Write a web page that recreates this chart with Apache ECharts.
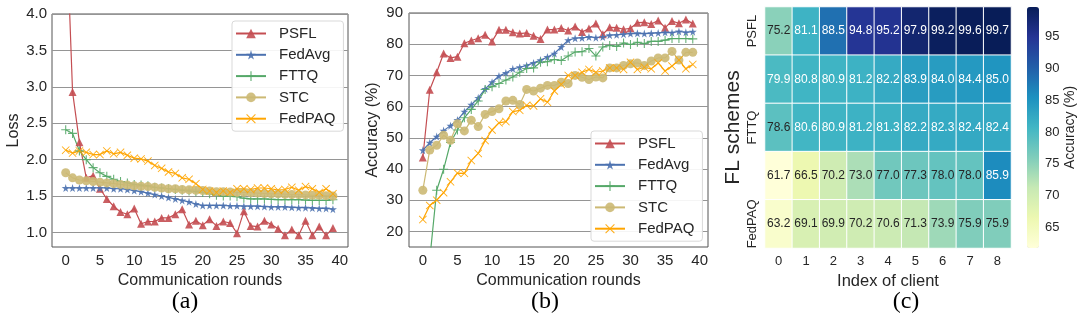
<!DOCTYPE html>
<html><head><meta charset="utf-8">
<script src="https://cdn.jsdelivr.net/npm/echarts@6/dist/echarts.min.js"></script>
<style>html,body{margin:0;padding:0;background:#fff}#c{width:1080px;height:336px}</style>
</head><body><div id="c"></div>
<script>
const rounds = [0,1,2,3,4,5,6,7,8,9,10,11,12,13,14,15,16,17,18,19,20,21,22,23,24,25,26,27,28,29,30,31,32,33,34,35,36,37,38,39];
const schemes = ['PSFL','FedAvg','FTTQ','STC','FedPAQ'];

// Panel (a): loss
const lossPSFL   = [5.5,2.93,2.24,1.75,1.78,1.6,1.46,1.36,1.28,1.25,1.33,1.12,1.15,1.15,1.2,1.2,1.25,1.32,1.11,1.16,1.10,1.18,1.09,1.15,1.13,0.99,1.29,1.09,1.08,1.16,1.11,1.05,0.96,1.04,0.96,1.16,0.96,1.08,0.96,1.06];
const lossFedAvg = [1.61,1.61,1.61,1.61,1.61,1.61,1.61,1.60,1.60,1.59,1.575,1.56,1.54,1.52,1.50,1.48,1.46,1.44,1.42,1.39,1.37,1.37,1.37,1.37,1.365,1.365,1.36,1.36,1.36,1.355,1.35,1.35,1.35,1.345,1.34,1.34,1.335,1.33,1.33,1.32];
const lossFTTQ   = [2.41,2.36,2.12,2.0,1.89,1.82,1.77,1.73,1.70,1.68,1.66,1.65,1.64,1.62,1.61,1.60,1.59,1.58,1.57,1.56,1.55,1.53,1.51,1.50,1.50,1.49,1.47,1.46,1.46,1.46,1.455,1.45,1.45,1.45,1.45,1.445,1.44,1.44,1.44,1.45];
const lossSTC    = [1.82,1.75,1.72,1.71,1.70,1.69,1.68,1.67,1.66,1.65,1.64,1.635,1.63,1.62,1.61,1.60,1.60,1.59,1.585,1.58,1.575,1.57,1.56,1.56,1.555,1.55,1.55,1.545,1.54,1.535,1.53,1.53,1.525,1.52,1.52,1.515,1.51,1.51,1.505,1.50];
const lossFedPAQ = [2.13,2.09,2.12,2.10,2.07,2.07,2.12,2.08,2.10,2.06,2.02,2.01,1.98,1.92,1.88,1.83,1.81,1.75,1.73,1.67,1.59,1.57,1.55,1.57,1.55,1.60,1.60,1.59,1.61,1.61,1.60,1.58,1.59,1.62,1.58,1.63,1.60,1.55,1.60,1.53];

// Panel (b): accuracy
const accPSFL   = [43.7,65.4,71.0,77.0,75.6,76.0,80.3,81.2,81.9,83.0,80.9,84.6,84.6,83.8,83.4,83.6,82.7,81.7,84.7,84.7,85.2,84.4,85.7,83.9,85.0,86.6,83.2,85.4,85.3,84.8,85.1,86.9,87.0,86.5,87.6,85.3,87.4,86.7,87.9,86.6];
const accFedAvg = [46.0,48.4,50.4,52.3,53.9,55.7,58.4,60.6,62.8,65.7,67.8,69.8,70.8,72.1,72.6,73.2,74.0,74.9,75.9,77.0,79.1,81.3,81.9,82.0,82.3,82.1,82.3,82.9,83.0,83.2,83.4,83.5,83.4,83.5,83.6,83.8,83.7,84.1,83.8,84.0];
const accFTTQ   = [9.0,11.0,33.2,39.9,48.5,52.5,56.4,59.1,61.8,65.5,66.4,67.4,68.5,69.5,71.0,72.2,72.4,74.2,74.4,75.1,74.8,76.2,77.5,77.6,78.6,76.2,79.1,79.6,79.3,80.4,79.9,80.6,80.2,80.9,80.9,81.3,81.8,81.8,81.8,81.7];
const accSTC    = [33.2,46.1,47.6,50.8,49.2,54.5,52.2,55.6,53.6,57.5,58.4,59.3,61.8,62.0,60.7,65.5,65.0,65.9,66.8,66.8,67.8,67.4,70.0,69.4,68.7,69.5,69.2,72.4,72.4,73.2,73.7,74.0,73.2,74.6,75.6,75.6,77.7,74.9,77.4,77.4];
const accFedPAQ = [23.8,28.3,30.0,32.4,35.9,38.7,38.6,42.7,45.0,49.1,52.5,54.8,55.2,58.4,58.8,60.4,60.2,62.5,61.4,65.0,67.1,70.0,70.0,71.0,71.9,71.0,71.4,72.4,72.4,71.9,74.2,71.9,72.6,72.1,74.0,71.4,73.0,74.9,72.1,73.5];

// Panel (c): heatmap
const clients = ['0','1','2','3','4','5','6','7','8'];
const heatPSFL   = [75.2,81.1,88.5,94.8,95.2,97.9,99.2,99.6,99.7];
const heatFedAvg = [79.9,80.8,80.9,81.2,82.2,83.9,84.0,84.4,85.0];
const heatFTTQ   = [78.6,80.6,80.9,81.2,81.3,82.2,82.3,82.4,82.4];
const heatSTC    = [61.7,66.5,70.2,73.0,77.0,77.3,78.0,78.0,85.9];
const heatFedPAQ = [63.2,69.1,69.9,70.2,70.6,71.3,73.9,75.9,75.9];
const colorbarTicks = [65,70,75,80,85,90,95];

const lossData = {PSFL:lossPSFL, FedAvg:lossFedAvg, FTTQ:lossFTTQ, STC:lossSTC, FedPAQ:lossFedPAQ};
const accData = {PSFL:accPSFL, FedAvg:accFedAvg, FTTQ:accFTTQ, STC:accSTC, FedPAQ:accFedPAQ};
const heatRows = [heatPSFL, heatFedAvg, heatFTTQ, heatSTC, heatFedPAQ];

const FONT = '"Liberation Sans", Arial, sans-serif';
const TXT = '#262626';
const T = 'rgba(0,0,0,0)';
const GRIDC = '#959595';
const STAR = 'path://M50,0 L61,35 L98,35 L68,57 L79,91 L50,70 L21,91 L32,57 L2,35 L39,35 Z';
const PLUS = 'path://M4.4,0 H5.6 V4.4 H10 V5.6 H5.6 V10 H4.4 V5.6 H0 V4.4 H4.4 Z';
const XMARK = 'path://M0.8,0 L5,4.2 L9.2,0 L10,0.8 L5.8,5 L10,9.2 L9.2,10 L5,5.8 L0.8,10 L0,9.2 L4.2,5 L0,0.8 Z';
const sty = {
  PSFL:   {color:'#c44e52', symbol:'triangle', size:8},
  FedAvg: {color:'#4c72b0', symbol:STAR, size:8},
  FTTQ:   {color:'#55a868', symbol:PLUS, size:9},
  STC:    {color:'#ccb974', symbol:'circle', size:9},
  FedPAQ: {color:'#ffa500', symbol:XMARK, size:8}
};
const YlGnBu = ['#ffffd9','#edf8b1','#c7e9b4','#7fcdbb','#41b6c4','#1d91c0','#225ea8','#253494','#081d58'];

function lineSeries(name, vals, idx) {
  const s = sty[name];
  return {
    name, type:'line', xAxisIndex: idx, yAxisIndex: idx,
    data: rounds.map((r, i) => [r, vals[i]]),
    symbol: s.symbol, symbolSize: s.size, showAllSymbol: true,
    lineStyle: {color: s.color, width: 1.2},
    itemStyle: {color: s.color, opacity: 0.9},
    clip: true, z: 3
  };
}

const series = [];
schemes.forEach(n => series.push(lineSeries(n, lossData[n], 0)));
schemes.forEach(n => series.push(lineSeries(n, accData[n], 1)));

const heatData = [];
heatRows.forEach((row, yi) => row.forEach((v, xi) => {
  heatData.push({value:[xi, yi, v], label:{color: v >= 79 ? '#ffffff' : TXT}});
}));
series.push({
  type:'heatmap', xAxisIndex:2, yAxisIndex:2, data: heatData,
  label:{show:true, fontSize:12, fontFamily:FONT, formatter: p => p.value[2].toFixed(1)},
  itemStyle:{borderColor:'#ffffff', borderWidth:1},
  emphasis:{disabled:true}
});

function legendCfg(left, top) {
  return {
    left, top, orient:'vertical', data: schemes, selectedMode:false,
    itemWidth:30, itemHeight:12, itemGap:6.3,
    padding:[5,8,5,3],
    backgroundColor:'rgba(255,255,255,0.9)', borderColor:'#d9d9d9', borderWidth:1, borderRadius:3,
    textStyle:{fontSize:15, color:TXT, fontFamily:FONT, padding:[0,0,0,8]}
  };
}

const axisLabelBase = {fontSize:15, color:TXT, fontFamily:FONT};
const nameStyle = {fontSize:16, color:TXT, fontFamily:FONT};

const option = {
  animation:false,
  textStyle:{fontFamily:FONT},
  grid:[
    {left:52, top:14, width:296, height:233, show:true, borderColor:'#555', borderWidth:1, backgroundColor:'#fff'},
    {left:409, top:13, width:299, height:234, show:true, borderColor:'#555', borderWidth:1, backgroundColor:'#fff'},
    {left:765, top:7, width:246, height:241},
    {left:1027, top:7, width:12, height:241}
  ],
  xAxis:[
    {gridIndex:0, type:'value', min:-2, max:41.2, interval:1,
     axisLine:{show:false}, axisTick:{show:false}, splitLine:{show:false},
     axisLabel:Object.assign({margin:6, formatter: v => (v % 5 === 0 && v >= 0 && v <= 40) ? String(v) : ''}, axisLabelBase),
     name:'Communication rounds', nameLocation:'middle', nameGap:22, nameTextStyle:nameStyle},
    {gridIndex:1, type:'value', min:-2, max:41.2, interval:1,
     axisLine:{show:false}, axisTick:{show:false}, splitLine:{show:false},
     axisLabel:Object.assign({margin:6, formatter: v => (v % 5 === 0 && v >= 0 && v <= 40) ? String(v) : ''}, axisLabelBase),
     name:'Communication rounds', nameLocation:'middle', nameGap:22, nameTextStyle:nameStyle},
    {gridIndex:2, type:'category', data:clients,
     axisLine:{show:false}, axisTick:{show:false}, splitLine:{show:false},
     axisLabel:{fontSize:13, color:TXT, fontFamily:FONT, margin:7},
     name:'Index of client', nameLocation:'middle', nameGap:22, nameTextStyle:{fontSize:16.5, color:TXT, fontFamily:FONT}},
    {gridIndex:3, type:'value', show:false, min:0, max:1}
  ],
  yAxis:[
    {gridIndex:0, type:'value', min:0.8, max:4.0, interval:0.1,
     axisLine:{show:false}, axisTick:{show:false},
     splitLine:{show:true, lineStyle:{color:[T,T,GRIDC,T,T], width:1.2}},
     axisLabel:Object.assign({margin:5, formatter: v => { const r = Math.round(v*10)/10; return (Math.abs(r*2 - Math.round(r*2)) < 1e-6 && r >= 1) ? r.toFixed(1) : ''; }}, axisLabelBase),
     name:'Loss', nameLocation:'middle', nameGap:30, nameRotate:90, nameTextStyle:nameStyle},
    {gridIndex:1, type:'value', min:15, max:90, interval:5,
     axisLine:{show:false}, axisTick:{show:false},
     splitLine:{show:true, lineStyle:{color:[T,GRIDC], width:1.2}},
     axisLabel:Object.assign({margin:6, formatter: v => (v % 10 === 0 && v >= 20) ? String(v) : ''}, axisLabelBase),
     name:'Accuracy (%)', nameLocation:'middle', nameGap:28, nameRotate:90, nameTextStyle:nameStyle},
    {gridIndex:2, type:'category', data:schemes, inverse:true,
     axisLine:{show:false}, axisTick:{show:false}, splitLine:{show:false},
     axisLabel:{fontSize:13, color:TXT, fontFamily:FONT, rotate:90, margin:6},
     name:'FL schemes', nameLocation:'middle', nameGap:21, nameRotate:90, nameTextStyle:{fontSize:21, color:TXT, fontFamily:FONT}},
    {gridIndex:3, type:'value', position:'right', min:61.7, max:99.7,
     axisLine:{show:false}, splitLine:{show:false},
     axisTick:{show:true, length:4, lineStyle:{color:'#333'}, customValues:colorbarTicks},
     axisLabel:{fontSize:13, color:TXT, fontFamily:FONT, margin:6, customValues:colorbarTicks},
     name:'Accuracy (%)', nameLocation:'middle', nameGap:21, nameRotate:90, nameTextStyle:{fontSize:14, color:TXT, fontFamily:FONT}}
  ],
  legend:[legendCfg(232, 21), legendCfg(591, 131)],
  visualMap:{type:'continuous', seriesIndex:10, min:61.7, max:99.7, inRange:{color:YlGnBu},
    left:1027, top:7, itemWidth:12, itemHeight:241, padding:0, calculable:false, hoverLink:false, show:true},
  graphic:[
    {type:'text', x:185, y:302, style:{text:'(a)', font:'24px "Liberation Serif", serif', fill:'#000', align:'center', verticalAlign:'middle', textAlign:'center', textVerticalAlign:'middle'}},
    {type:'text', x:545, y:302, style:{text:'(b)', font:'24px "Liberation Serif", serif', fill:'#000', align:'center', verticalAlign:'middle', textAlign:'center', textVerticalAlign:'middle'}},
    {type:'text', x:906, y:302, style:{text:'(c)', font:'24px "Liberation Serif", serif', fill:'#000', align:'center', verticalAlign:'middle', textAlign:'center', textVerticalAlign:'middle'}}
  ],
  series
};
const chart = echarts.init(document.getElementById('c'), null, {renderer:'canvas'});
chart.setOption(option);
</script></body></html>
